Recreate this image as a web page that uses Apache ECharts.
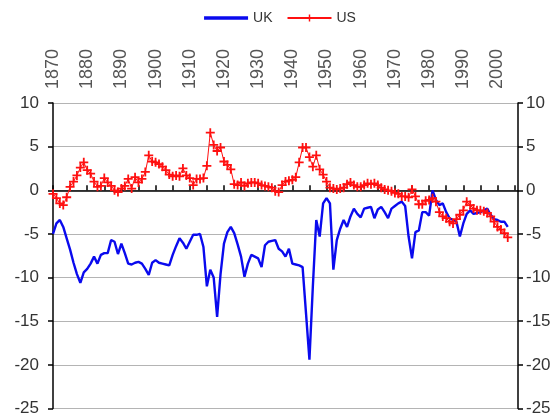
<!DOCTYPE html>
<html>
<head>
<meta charset="utf-8">
<script src="https://cdn.jsdelivr.net/npm/echarts@6/dist/echarts.min.js"></script>
<style>
  html, body { margin: 0; padding: 0; background: #fff; }
</style>
</head>
<body>
<div id="chart" style="width: 560px; height: 417px;"></div>
<script>
const firstYear = 1870

const uk = [
  -5.0, -3.8, -3.4, -4.2, -5.5, -6.8, -8.3, -9.6, -10.6, -9.4,
  -9.0, -8.4, -7.6, -8.4, -7.4, -7.2, -7.2, -5.7, -5.9, -7.3,
  -6.1, -7.2, -8.4, -8.5, -8.3, -8.2, -8.4, -9.0, -9.7, -8.3,
  -8.0, -8.3, -8.4, -8.5, -8.6, -7.4, -6.4, -5.5, -6.0, -6.7,
  -5.9, -5.1, -5.1, -5.0, -6.5, -11.0, -9.1, -10.0, -14.5, -9.6,
  -6.1, -4.8, -4.2, -4.9, -6.2, -7.6, -9.9, -8.4, -7.4, -7.6,
  -7.8, -8.8, -6.3, -5.9, -5.8, -5.7, -6.7, -7.0, -7.6, -6.7,
  -8.4, -8.5, -8.6, -8.8, -14.1, -19.4, -11.0, -3.4, -5.3, -1.5,
  -0.9, -1.5, -9.1, -5.7, -4.4, -3.4, -4.2, -3.0, -2.1, -2.7,
  -3.1, -2.1, -2.0, -1.9, -3.2, -2.2, -1.9, -2.5, -3.2, -2.1,
  -1.8, -1.5, -1.3, -1.8, -5.3, -7.8, -4.8, -4.6, -2.5, -2.5,
  -2.9, 0.0, -1.1, -1.7, -1.5, -2.5, -3.2, -3.4, -3.6, -5.3,
  -3.8, -2.7, -2.3, -2.7, -2.6, -2.5, -2.3, -2.1, -2.8, -3.3,
  -3.4, -3.6, -3.6, -4.2
]

const us = [
  -0.4, -0.9, -1.5, -1.7, -0.8, 0.4, 1.0, 1.7, 2.6, 3.2,
  2.3, 1.9, 1.0, 0.4, 0.5, 1.4, 0.9, 0.5, 0.0, -0.2,
  0.2, 0.5, 1.3, 0.2, 1.5, 0.9, 1.3, 2.1, 4.0, 3.3,
  3.2, 3.0, 2.7, 2.3, 1.8, 1.6, 1.7, 1.6, 2.5, 1.7,
  1.4, 0.6, 1.3, 1.3, 1.4, 2.8, 6.6, 5.2, 4.5, 4.9,
  3.3, 2.9, 2.4, 0.7, 0.6, 0.9, 0.5, 0.8, 0.9, 0.9,
  0.8, 0.6, 0.5, 0.4, 0.3, -0.1, -0.2, 0.6, 1.0, 1.1,
  1.2, 1.5, 3.2, 4.9, 4.9, 3.8, 2.7, 4.0, 2.4, 1.8,
  1.0, 0.3, 0.2, 0.1, 0.2, 0.3, 0.7, 0.9, 0.6, 0.4,
  0.4, 0.6, 0.8, 0.7, 0.8, 0.6, 0.3, 0.1, 0.0, -0.1,
  -0.3, -0.4, -0.7, -0.7, -0.8, 0.1, -0.7, -1.6, -1.6, -1.2,
  -1.1, -0.9, -1.3, -2.5, -3.0, -3.2, -3.6, -3.8, -3.3, -2.8,
  -2.3, -1.3, -1.7, -2.1, -2.3, -2.3, -2.4, -2.6, -3.0, -3.6,
  -4.2, -4.5, -4.9, -5.4
]

const years = uk.map((v, i) => firstYear + i)

// x axis ticks every 5 years, labels every 10
const xMin = 1870
const xMax = 2006
const yMin = -25
const yMax = 10

const plus = 'path://M4,0 L6,0 L6,4 L10,4 L10,6 L6,6 L6,10 L4,10 L4,6 L0,6 L0,4 L4,4 Z'
const bar = 'path://M0,0 L40,0 L40,3 L0,3 Z'
const font = 'Liberation Sans, Arial, sans-serif'

function yAxis (position) {
  return {
    type: 'value',
    position: position,
    min: yMin,
    max: yMax,
    interval: 5,
    axisLine: { show: true, lineStyle: { color: '#000', width: 1.5 } },
    axisTick: { show: true, length: 5, lineStyle: { color: '#000', width: 1.5 } },
    axisLabel: {
      fontSize: 17,
      color: '#333',
      fontFamily: font,
      margin: position === 'left' ? 14 : 8
    },
    splitLine: {
      show: position === 'left',
      lineStyle: { color: '#b4b4b4', width: 1 }
    }
  }
}

function getOption () {
  return {
    animation: false,
    legend: {
      top: 6,
      left: 'center',
      itemWidth: 44,
      itemHeight: 9,
      itemGap: 14,
      textStyle: { fontSize: 14, color: '#333', fontFamily: font },
      data: [{ name: 'UK', icon: bar }, { name: 'US' }]
    },
    grid: {
      left: 53,
      right: 42,
      top: 103,
      bottom: 7,
      containLabel: false
    },
    xAxis: {
      type: 'value',
      position: 'top',
      min: xMin,
      max: xMax,
      interval: 5,
      axisLine: { show: true, lineStyle: { color: '#000', width: 1.5 } },
      axisTick: { show: true, length: 5, lineStyle: { color: '#000', width: 1.5 } },
      splitLine: { show: false },
      axisLabel: {
        rotate: 90,
        fontSize: 18,
        color: '#555',
        fontFamily: font,
        margin: 14,
        showMaxLabel: false,
        formatter: function (v) {
          return v % 10 === 0 && v <= 2000 ? String(v) : ''
        }
      }
    },
    yAxis: [yAxis('left'), yAxis('right')],
    series: [
      {
        name: 'UK',
        type: 'line',
        symbol: 'none',
        lineStyle: { color: '#0a0aee', width: 2.4 },
        itemStyle: { color: '#0a0aee' },
        data: years.map((y, i) => [y, uk[i]])
      },
      {
        name: 'US',
        type: 'line',
        symbol: plus,
        symbolSize: 9,
        lineStyle: { color: '#ff1010', width: 1 },
        itemStyle: { color: '#ff1010' },
        data: years.map((y, i) => [y, us[i]])
      }
    ]
  }
}

const chart = echarts.init(document.getElementById('chart'))
chart.setOption(getOption())
</script>
</body>
</html>
